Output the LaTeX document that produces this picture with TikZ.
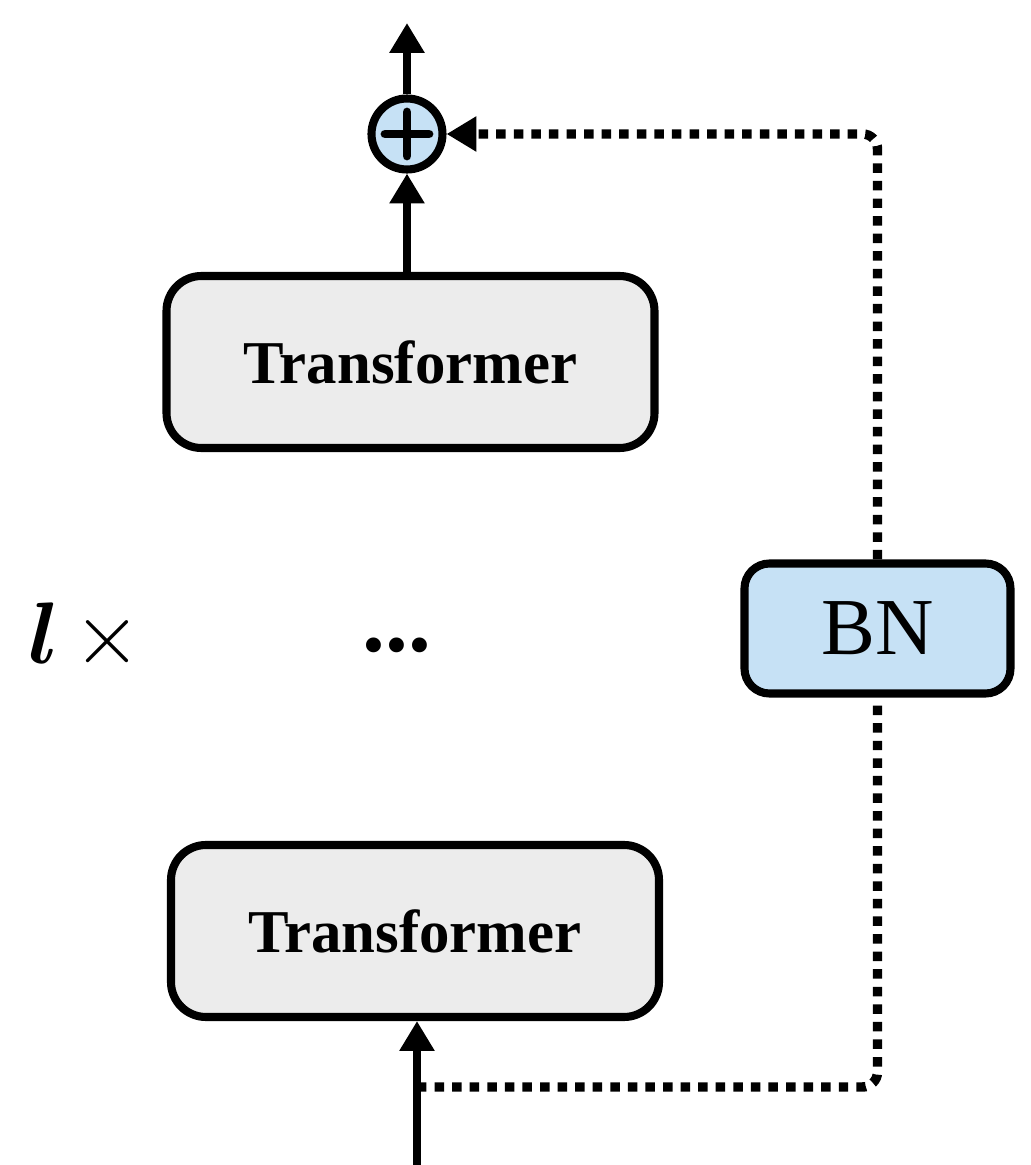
\documentclass[tikz,border=0pt]{standalone}
\usepackage{amsmath}
\usepackage{fontspec}
\setmainfont{Liberation Serif}
\usetikzlibrary{arrows.meta,positioning}
\definecolor{boxgray}{RGB}{236,236,236}
\definecolor{bnblue}{RGB}{198,225,245}
\begin{document}
\begin{tikzpicture}[>={Triangle[width=9.5pt,length=8.5pt]},
    line width=2.3pt,
    block/.style={draw, rounded corners=0.35cm, fill=boxgray, minimum width=4.88cm, minimum height=1.72cm,
        font=\fontsize{17.3}{20}\selectfont\bfseries},
    normbox/.style={draw, rounded corners=0.25cm, fill=bnblue, minimum width=2.66cm, minimum height=1.30cm,
        font=\fontsize{23}{26}\selectfont},
    addop/.style={draw, circle, fill=bnblue, minimum size=0.71cm, inner sep=0pt},
    shortcut/.style={line width=2.7pt, dash pattern=on 2.7pt off 2.3pt, rounded corners=0.15cm}]
    \useasboundingbox (0,0) rectangle (10.31,11.65);

    % Stack of blocks
    \node[block] (tfBot) at (4.15, 2.34) {Transformer};
    \node[block] (tfTop) at (4.105, 8.03) {Transformer};
    \node[addop] (plus) at (4.07, 10.31) {};
    \draw[line cap=round, line width=2.5pt] ([xshift=-0.22cm]plus.center) -- ([xshift=0.22cm]plus.center);
    \draw[line cap=round, line width=2.5pt] ([yshift=-0.22cm]plus.center) -- ([yshift=0.22cm]plus.center);
    \node[normbox] (bn) at (8.775, 5.365) {BN};

    % Labels
    \node (rep) at (0.85, 5.28) {\fontsize{23}{26}\selectfont$\boldsymbol{l}\,{\times}$};
    \node (dots) at (3.97, 5.20) {\fontsize{26}{30}\selectfont\bfseries...};

    % Main path
    \coordinate (in) at (4.17, 0);
    \coordinate (out) at (4.07, 11.42);
    \coordinate (split) at (4.17, 0.78);
    \draw[->] (in) -- (tfBot.south -| in);
    \draw[->] (tfTop.north -| plus) -- (plus.south);
    \draw[->] (plus.north) -- (out);

    % Shortcut through BN
    \draw[shortcut] (split) -| (bn.south);
    \draw[shortcut, ->] (bn.north) |- (plus.east);
\end{tikzpicture}
\end{document}
